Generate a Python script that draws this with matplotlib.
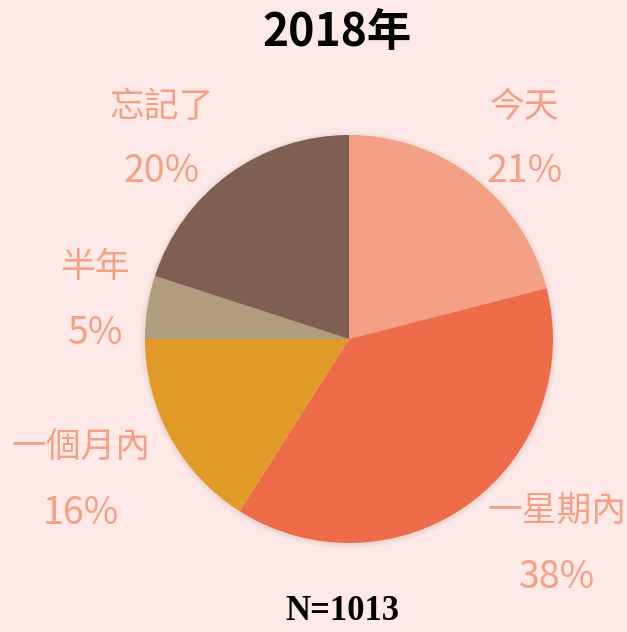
import matplotlib.pyplot as plt
from matplotlib.patches import Circle

# data
categories = ["今天", "一星期內", "一個月內", "半年", "忘記了"]
shares = [21, 38, 16, 5, 20]
pct_labels = ["21%", "38%", "16%", "5%", "20%"]
title = "2018年"
note = "N=1013"

colors = ["#F4A084", "#EE6C4A", "#E09A27", "#B19C7E", "#7E5F52"]
bg = "#FDEAE8"
label_color = "#F4A085"

# label anchor positions in pixel space (x, y from top)
label_pos = [(525, 107), (557, 512), (81, 448), (95, 268), (162, 107)]
line_gap = 63

W, H = 627, 632
fig = plt.figure(figsize=(W / 100, H / 100), dpi=100, facecolor=bg)
ax = fig.add_axes([0, 0, 1, 1])
ax.set_facecolor(bg)

cx, cy, r = 349, 339, 204

# soft shadow around the pie
for i, a in enumerate([0.05, 0.04, 0.03, 0.02]):
    ax.add_patch(Circle((cx, cy + 1), r + 1 + i * 1.5, color="#8a6a60", alpha=a,
                        lw=0, zorder=0))

# y axis is inverted, so counterclock=True draws clockwise on screen
ax.pie(shares, colors=colors, startangle=-90, counterclock=True,
       center=(cx, cy), radius=r, frame=True,
       wedgeprops=dict(linewidth=0))
ax.set_xlim(0, W)
ax.set_ylim(H, 0)
ax.set_aspect("equal")
ax.axis("off")

cjk = ["Noto Sans CJK TC", "DejaVu Sans"]
for cat, pct, (x, y) in zip(categories, pct_labels, label_pos):
    ax.text(x, y, cat, ha="center", va="center", fontsize=25,
            fontweight="medium", color=label_color, family=cjk)
    ax.text(x, y + line_gap + 2, pct, ha="center", va="center", fontsize=27,
            fontweight="medium", color=label_color, family=cjk)

ax.text(337, 33, title, ha="center", va="center", fontsize=32,
        fontweight="bold", color="black", family=cjk)
ax.text(342, 611, note, ha="center", va="center", fontsize=25,
        fontweight="bold", color="black", family=["Liberation Serif"])

fig.savefig("out.png", dpi=100, facecolor=bg)
